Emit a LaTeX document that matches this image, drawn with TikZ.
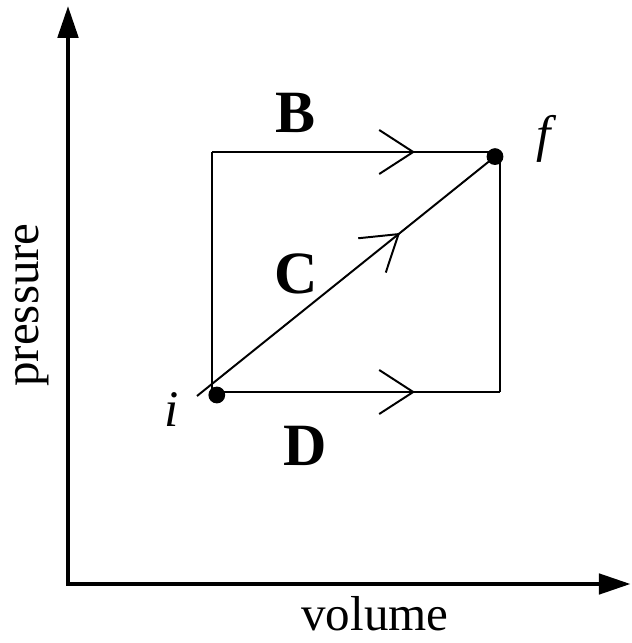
\documentclass[tikz,border=0pt]{standalone}
\usepackage{fontspec}
\setmainfont{Liberation Serif}
\usetikzlibrary{arrows.meta,decorations.markings}

\begin{document}
\begin{tikzpicture}[
    axis/.style={
        line width=3.5pt,
        {Triangle[length=0.8cm,width=0.5cm]}-{Triangle[length=0.8cm,width=0.5cm]}
    },
    route/.style={
        line width=1.4pt
    },
    midarrow/.style={
        postaction={decorate},
        decoration={markings,
            mark=at position #1 with {\arrow{Straight Barb[length=0.85cm,width=1.1cm]}}}
    },
    state/.style={
        circle,
        fill=black,
        inner sep=0pt,
        minimum size=0.42cm
    },
    pathlabel/.style={
        font=\fontsize{42.7}{48}\selectfont\bfseries
    },
    statelabel/.style={
        font=\fontsize{36.5}{40}\selectfont\itshape
    },
    axislabel/.style={
        font=\fontsize{34.9}{40}\selectfont,
        inner sep=0pt
    }
]
\useasboundingbox (0,0) rectangle (15.8,16.075);

% Axes
\coordinate (origin) at (1.7, 1.475);
\coordinate (ytop)   at (1.7, 15.93);
\coordinate (xend)   at (15.77, 1.475);
\draw[axis] (ytop) -- (origin) -- (xend);

\node[axislabel, rotate=90] (plabel) at (0.8, 8.45) {pressure};
\node[axislabel] (vlabel) at (9.375, 0.72) {volume};

% Corners of the rectangle
\coordinate (bl) at (5.3, 6.275);
\coordinate (tl) at (5.3, 12.275);
\coordinate (tr) at (12.5, 12.275);
\coordinate (br) at (12.5, 6.275);
\coordinate (start) at (4.925, 6.175);

% Path B: up, then right
\draw[route] (bl) -- (tl);
\draw[route, midarrow=0.705] (tl) -- (tr);

% Path D: right, then up
\draw[route, midarrow=0.705] (bl) -- (br);
\draw[route] (br) -- (tr);

% States
\node[state] (i) at (5.42, 6.2) {};
\node[state] (f) at (12.375, 12.16) {};

% Path C: straight
\draw[route, midarrow=0.681] (start) -- (f.center);

% Labels
\node[pathlabel] (B) at (7.4, 13.25) {B};
\node[pathlabel] (C) at (7.4, 9.225) {C};
\node[pathlabel] (D) at (7.625, 4.925) {D};
\node[statelabel] (ilabel) at (4.3, 5.825) {i};
\node[statelabel] (flabel) at (13.6, 12.6) {f};

\end{tikzpicture}
\end{document}
